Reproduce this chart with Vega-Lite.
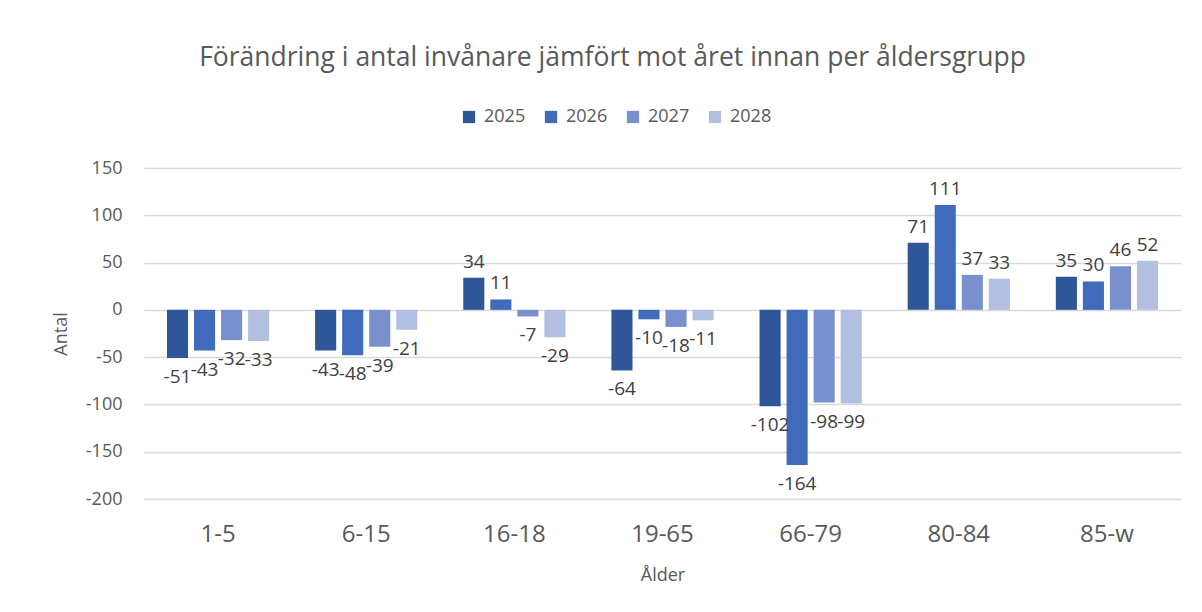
{
  "$schema": "https://vega.github.io/schema/vega-lite/v6.json",
  "autosize": {"type": "none"},
  "width": 1037,
  "height": 331,
  "padding": {"left": 144, "top": 168, "right": 21, "bottom": 113},
  "background": "white",
  "title": {
    "text": "Förändring i antal invånare jämfört mot året innan per åldersgrupp",
    "font": "Open Sans",
    "fontSize": 26.5,
    "fontWeight": "normal",
    "color": "#595959",
    "anchor": "middle",
    "dx": -50,
    "offset": 37
  },
  "data": {
    "values": [
      {"age": "1-5", "year": "2025", "value": -51},
      {"age": "1-5", "year": "2026", "value": -43},
      {"age": "1-5", "year": "2027", "value": -32},
      {"age": "1-5", "year": "2028", "value": -33},
      {"age": "6-15", "year": "2025", "value": -43},
      {"age": "6-15", "year": "2026", "value": -48},
      {"age": "6-15", "year": "2027", "value": -39},
      {"age": "6-15", "year": "2028", "value": -21},
      {"age": "16-18", "year": "2025", "value": 34},
      {"age": "16-18", "year": "2026", "value": 11},
      {"age": "16-18", "year": "2027", "value": -7},
      {"age": "16-18", "year": "2028", "value": -29},
      {"age": "19-65", "year": "2025", "value": -64},
      {"age": "19-65", "year": "2026", "value": -10},
      {"age": "19-65", "year": "2027", "value": -18},
      {"age": "19-65", "year": "2028", "value": -11},
      {"age": "66-79", "year": "2025", "value": -102},
      {"age": "66-79", "year": "2026", "value": -164},
      {"age": "66-79", "year": "2027", "value": -98},
      {"age": "66-79", "year": "2028", "value": -99},
      {"age": "80-84", "year": "2025", "value": 71},
      {"age": "80-84", "year": "2026", "value": 111},
      {"age": "80-84", "year": "2027", "value": 37},
      {"age": "80-84", "year": "2028", "value": 33},
      {"age": "85-w", "year": "2025", "value": 35},
      {"age": "85-w", "year": "2026", "value": 30},
      {"age": "85-w", "year": "2027", "value": 46},
      {"age": "85-w", "year": "2028", "value": 52}
    ]
  },
  "encoding": {
    "x": {
      "field": "age",
      "type": "nominal",
      "sort": null,
      "scale": {"paddingInner": 0.31, "paddingOuter": 0.155},
      "axis": {
        "title": "Ålder",
        "titleFont": "Open Sans",
        "titleFontSize": 18,
        "titleFontWeight": "normal",
        "titleColor": "#595959",
        "titlePadding": 20,
        "labelAngle": 0,
        "labelFont": "Open Sans",
        "labelFontSize": 24,
        "labelColor": "#595959",
        "labelPadding": 23,
        "ticks": false,
        "domain": false,
        "grid": false
      }
    },
    "xOffset": {
      "field": "year",
      "type": "nominal",
      "scale": {"paddingInner": 0.22, "paddingOuter": 0}
    },
    "y": {
      "field": "value",
      "type": "quantitative",
      "scale": {"domain": [-200, 150], "nice": false},
      "axis": {
        "title": "Antal",
        "titleFont": "Open Sans",
        "titleFontSize": 18,
        "titleFontWeight": "normal",
        "titleColor": "#595959",
        "titlePadding": 15,
        "values": [-200, -150, -100, -50, 0, 50, 100, 150],
        "labelFont": "Open Sans",
        "labelFontSize": 18,
        "labelColor": "#595959",
        "labelPadding": 22,
        "ticks": false,
        "domain": false,
        "gridColor": "#d9d9d9",
        "gridWidth": 1.5
      }
    }
  },
  "layer": [
    {
      "mark": {"type": "bar"},
      "encoding": {
        "color": {
          "field": "year",
          "type": "nominal",
          "scale": {"domain": ["2025", "2026", "2027", "2028"], "range": ["#30569A", "#3F6BBA", "#7891CE", "#B2BFE1"]},
          "legend": {
            "title": null,
            "orient": "none",
            "direction": "horizontal",
            "legendX": 316,
            "legendY": -60,
            "symbolType": "square",
            "symbolSize": 150,
            "symbolStrokeWidth": 0,
            "labelFont": "Open Sans",
            "labelFontSize": 18,
            "labelColor": "#595959",
            "columnPadding": 16,
            "labelOffset": 6
          }
        }
      }
    },
    {
      "transform": [{"filter": "datum.value >= 0"}],
      "mark": {"type": "text", "baseline": "bottom", "dy": -6, "font": "Open Sans", "fontSize": 19, "color": "#404040"},
      "encoding": {"text": {"field": "value", "type": "quantitative"}}
    },
    {
      "transform": [{"filter": "datum.value < 0"}],
      "mark": {"type": "text", "baseline": "top", "dy": 10, "font": "Open Sans", "fontSize": 19, "color": "#404040"},
      "encoding": {"text": {"field": "value", "type": "quantitative"}}
    }
  ],
  "config": {
    "view": {"stroke": null},
    "locale": {"number": {"decimal": ",", "thousands": " ", "grouping": [3], "currency": ["", " kr"], "minus": "-"}}
  }
}
